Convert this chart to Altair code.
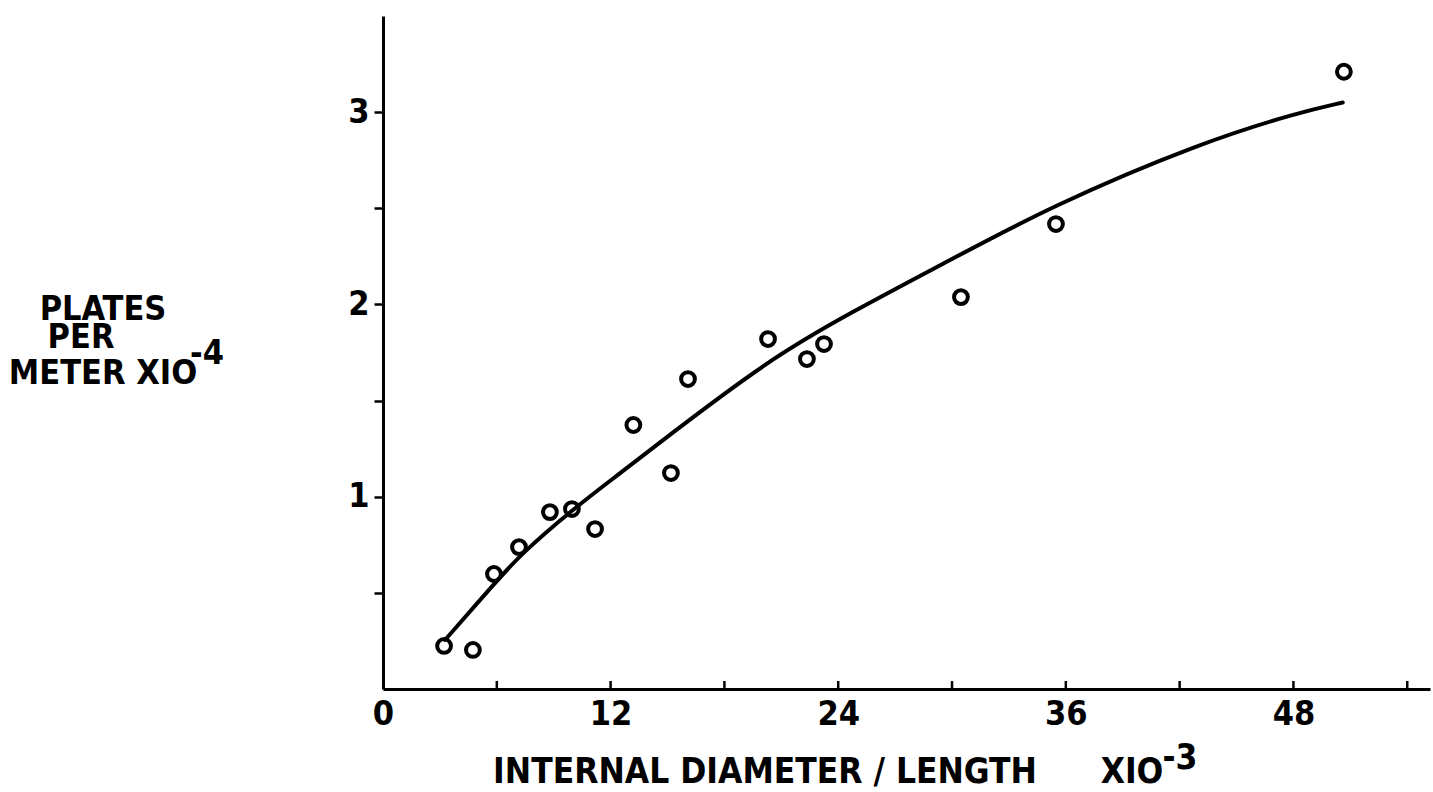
import altair as alt
import pandas as pd

# ---- data ----
diam_len = [3.22, 4.74, 5.85, 7.17, 8.80, 9.96, 11.18, 13.2, 15.18, 16.08,
            20.3, 22.35, 23.25, 30.47, 35.48, 50.66]
plates = [0.224, 0.203, 0.598, 0.738, 0.92, 0.936, 0.832, 1.373, 1.123, 1.612,
          1.82, 1.716, 1.794, 2.038, 2.418, 3.21]

curve_x = [3.27, 5.9, 7.22, 9.96, 12.34, 14.76, 20.3, 24.6, 29.9, 35.2, 43.07, 48.34, 50.6]
curve_y = [0.255, 0.551, 0.697, 0.931, 1.11, 1.295, 1.71, 1.955, 2.23, 2.51, 2.84, 3.0, 3.05]

x_tick_values = [6, 12, 18, 24, 30, 36, 42, 48, 54]
x_label_values = [0, 12, 24, 36, 48]
y_tick_values = [0.5, 1, 1.5, 2, 2.5, 3]

x_title = "INTERNAL DIAMETER / LENGTH"
x_mult = "XIO"
x_exp = "-3"
y_title_lines = ["PLATES", "PER", "METER XIO"]
y_exp = "-4"

FONT = "DejaVu Sans Condensed, DejaVu Sans, sans-serif"
W, H = 1047, 673

pts = pd.DataFrame({"x": diam_len, "y": plates})
crv = pd.DataFrame({"x": curve_x, "y": curve_y})
xt = pd.DataFrame({"x": x_tick_values})

xscale = alt.Scale(domain=[0, 55.2], nice=False, zero=True)
yscale = alt.Scale(domain=[0, 3.5], nice=False, zero=True)

xaxis = alt.Axis(values=x_label_values, tickSize=0, labelPadding=8, title=None,
                 grid=False, domainColor="black", domainWidth=3, format="d",
                 labelFont=FONT, labelFontSize=34, labelFontWeight="bold",
                 labelColor="black", labelFlush=False)
yaxis = alt.Axis(values=y_tick_values, tickSize=9, tickWidth=2.5, tickColor="black",
                 labelPadding=5, title=None, grid=False,
                 domainColor="black", domainWidth=3,
                 labelExpr="datum.value % 1 == 0 ? format(datum.value, 'd') : ''",
                 labelFont=FONT, labelFontSize=34, labelFontWeight="bold",
                 labelColor="black")

points = alt.Chart(pts).mark_point(shape="circle", filled=False, size=190,
                                   strokeWidth=4, color="black", opacity=1).encode(
    x=alt.X("x:Q", scale=xscale, axis=xaxis),
    y=alt.Y("y:Q", scale=yscale, axis=yaxis),
)

line = alt.Chart(crv).mark_line(color="black", strokeWidth=4, strokeCap="round",
                                interpolate="basis").encode(
    x=alt.X("x:Q", scale=xscale),
    y=alt.Y("y:Q", scale=yscale),
)

ticks = alt.Chart(xt).mark_rule(color="black", strokeWidth=2.5).encode(
    x=alt.X("x:Q", scale=xscale),
    y=alt.value(H),
    y2=alt.value(H - 8),
)


def label(text, x, y, size, align="center"):
    return alt.Chart(pd.DataFrame({"t": [text]})).mark_text(
        font=FONT, fontSize=size, fontWeight="bold", color="black",
        align=align, baseline="alphabetic").encode(
        text="t:N", x=alt.value(x), y=alt.value(y))


texts = [
    label(x_title, 382, 767, 35),
    label(x_mult, 749, 767, 35),
    label(x_exp, 797, 753, 35),
    label(y_title_lines[0], -280, 304, 34),
    label(y_title_lines[1], -302, 332, 34),
    label(y_title_lines[2], -280, 368, 34),
    label(y_exp, -176, 348, 34),
]

chart = alt.layer(line, points, ticks, *texts).properties(
    width=W, height=H,
    autosize=alt.AutoSizeParams(type="none"),
    padding={"left": 383, "top": 16, "right": 3, "bottom": 103},
    background="white",
).configure_view(stroke=None)

chart.save("out.html", embed_options={"renderer": "svg", "actions": False})
